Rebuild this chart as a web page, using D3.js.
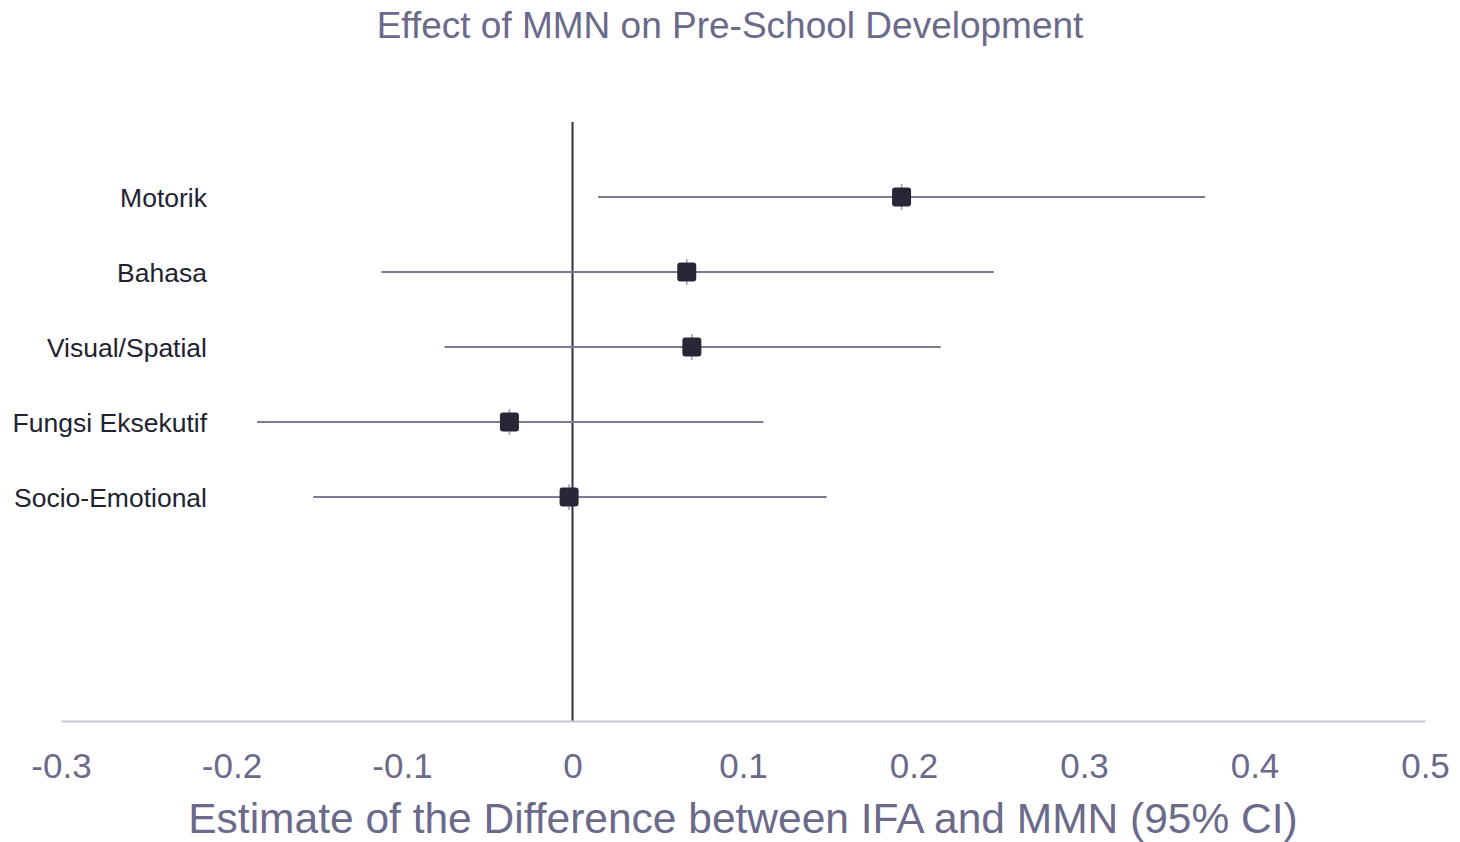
<!DOCTYPE html>
<html>
<head>
<meta charset="utf-8">
<script src="https://cdn.jsdelivr.net/npm/d3@7"></script>
<style>
  html, body { margin: 0; padding: 0; background: #fff; }
  svg { display: block; font-family: "Liberation Sans", Arial, sans-serif; }
</style>
</head>
<body>
<svg id="chart" width="1460" height="842"></svg>
<script>
// Outcome domains and estimated differences (IFA vs MMN) with 95% CI
const categories = ["Motorik", "Bahasa", "Visual/Spatial", "Fungsi Eksekutif", "Socio-Emotional"];
const estimates  = [0.193, 0.067, 0.070, -0.037, -0.002];
const lowerCI    = [0.015, -0.112, -0.075, -0.185, -0.152];
const upperCI    = [0.371, 0.247, 0.216, 0.112, 0.149];
const xTicks     = [-0.3, -0.2, -0.1, 0, 0.1, 0.2, 0.3, 0.4, 0.5];

const svg = d3.select("#chart");

const x = d3.scaleLinear().domain([-0.3, 0.5]).range([61, 1425]);
const y = d3.scalePoint().domain(categories).range([197, 497]);

const labelColor = "#6b6a8a";

// Title
svg.append("text")
  .attr("x", 730).attr("y", 38)
  .attr("text-anchor", "middle")
  .attr("font-size", 37)
  .attr("fill", labelColor)
  .text("Effect of MMN on Pre-School Development");

// Reference line at zero
svg.append("line")
  .attr("x1", x(0)).attr("x2", x(0))
  .attr("y1", 122).attr("y2", 721)
  .attr("stroke", "#2e2e3e").attr("stroke-width", 2);

// X axis (plain hyphen for negatives)
const xAxis = d3.axisBottom(x)
  .tickValues(xTicks)
  .tickSize(0)
  .tickPadding(38)
  .tickFormat(d => d === 0 ? "0" : d3.format(".1f")(d).replace("\u2212", "-"));

const gx = svg.append("g")
  .attr("transform", "translate(0,721)")
  .call(xAxis);
gx.select(".domain").attr("stroke", "#c9c7d7").attr("stroke-width", 2);
gx.selectAll(".tick text")
  .attr("font-size", 35)
  .attr("font-family", "Liberation Sans, Arial, sans-serif")
  .attr("fill", labelColor)
  .attr("dy", "0.55em");

// X axis title
svg.append("text")
  .attr("x", 743).attr("y", 833)
  .attr("text-anchor", "middle")
  .attr("font-size", 42.5)
  .attr("fill", labelColor)
  .text("Estimate of the Difference between IFA and MMN (95% CI)");

// Category labels
svg.append("g").selectAll("text")
  .data(categories)
  .join("text")
  .attr("x", 207)
  .attr("y", d => y(d))
  .attr("dy", "0.36em")
  .attr("text-anchor", "end")
  .attr("font-size", 26.5)
  .attr("fill", "#222230")
  .text(d => d);

const rows = categories.map((c, i) => ({ c, est: estimates[i], lo: lowerCI[i], hi: upperCI[i] }));

// CI lines
svg.append("g").selectAll("line")
  .data(rows)
  .join("line")
  .attr("x1", d => x(d.lo)).attr("x2", d => x(d.hi))
  .attr("y1", d => y(d.c)).attr("y2", d => y(d.c))
  .attr("stroke", "#7c7a94").attr("stroke-width", 2);

// Small centre ticks
svg.append("g").selectAll("line")
  .data(rows)
  .join("line")
  .attr("x1", d => x(d.est)).attr("x2", d => x(d.est))
  .attr("y1", d => y(d.c) - 13).attr("y2", d => y(d.c) + 13)
  .attr("stroke", "#9aa3a0").attr("stroke-width", 1.5);

// Point estimates
const s = 19;
svg.append("g").selectAll("rect")
  .data(rows)
  .join("rect")
  .attr("x", d => x(d.est) - s / 2)
  .attr("y", d => y(d.c) - s / 2)
  .attr("width", s).attr("height", s)
  .attr("rx", 3).attr("ry", 3)
  .attr("fill", "#272736");
</script>
</body>
</html>
